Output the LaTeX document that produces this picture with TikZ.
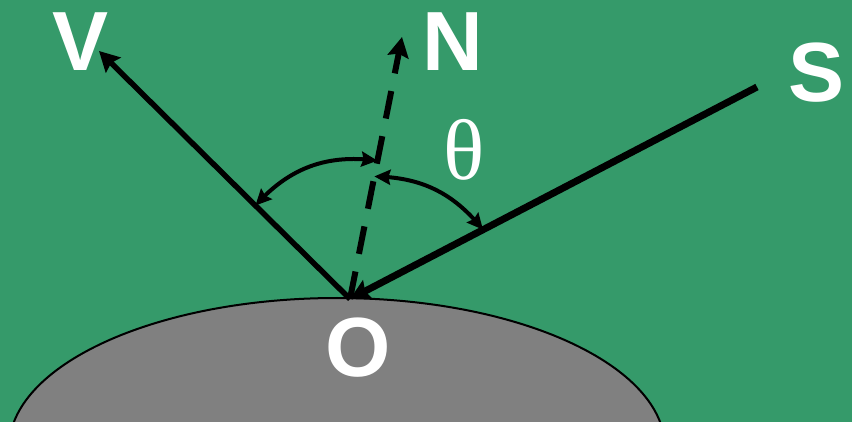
\documentclass[tikz,border=0pt]{standalone}
\usepackage{fontspec}
\setmainfont{Liberation Sans}
\newfontfamily\thetafont{Liberation Serif}
\usetikzlibrary{arrows.meta,calc,bending}
\definecolor{bggreen}{RGB}{53,154,106}
\definecolor{surfgray}{RGB}{128,128,128}
\tikzset{
  lbl/.style={text=white,font=\fontsize{84}{84}\selectfont\bfseries,inner sep=0pt},
  ray/.style={line width=5.5pt,-{Stealth[length=20pt,width=21pt,inset=3pt]}},
  anglearc/.style={line width=4pt,{Stealth[length=16pt,width=15pt,inset=2pt,flex]}-{Stealth[length=16pt,width=15pt,inset=2pt,flex]}}
}
\begin{document}
\begin{tikzpicture}[x=1pt,y=-1pt]
  \fill[bggreen] (0,0) rectangle (852,422);
  \useasboundingbox (0,0) rectangle (852,422);
  \begin{scope}
    \clip (0,0) rectangle (852,422);
    \draw[fill=surfgray,line width=2pt] (337,448) ellipse [x radius=328, y radius=150];
  \end{scope}
  \coordinate (O) at (350,299);
  \coordinate (V) at (99,51);
  \coordinate (N) at (402,37);
  \coordinate (S) at (757,87);
  \draw[ray] (O) -- (V);
  \draw[ray,line width=6pt,dash pattern=on 28pt off 18pt] (O) -- (N);
  \draw[ray,line width=7pt] (S) -- (O);
  \coordinate (a1) at ($(O)!133pt!(V)$);
  \coordinate (b1) at ($(O)!141pt!(N)$);
  \coordinate (a2) at ($(O)!125pt!(N)$);
  \coordinate (b2) at ($(O)!150pt!(S)$);
  \draw[anglearc] (a1) to[bend left=28] (b1);
  \draw[anglearc] (a2) to[bend left=25] (b2);
  \node[lbl] (lV) at (81,42) {V};
  \node[lbl] (lN) at (453,42) {N};
  \node[lbl] (lS) at (817,73) {S};
  \node[lbl] (lO) at (358,348) {O};
  \node[text=white,inner sep=0pt,font=\thetafont\fontsize{86}{86}\selectfont] (th) at (464,150) {θ};
\end{tikzpicture}
\end{document}
